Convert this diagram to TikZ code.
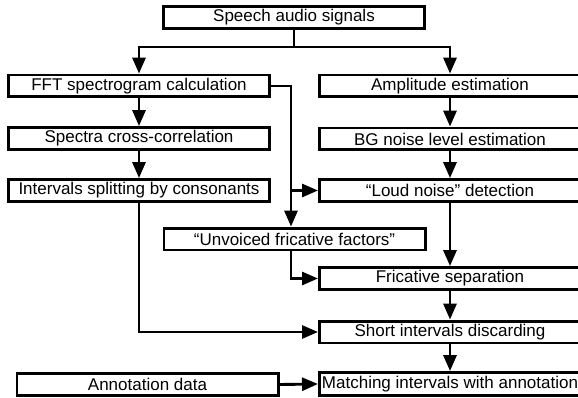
\documentclass[tikz,border=0pt]{standalone}
\usepackage{fontspec}
\setmainfont{Liberation Sans}
\usetikzlibrary{arrows.meta}
\tikzset{
  box/.style={draw=black, line width=2.9pt, fill=white, inner sep=1pt,
    minimum width=261.1pt, minimum height=21.9pt,
    font=\fontsize{17}{20}\selectfont, text=black},
  conn/.style={draw=black, line width=2.9pt},
  arr/.style={conn, -{Triangle[length=16pt,width=13pt]}},
}
\begin{document}
\begin{tikzpicture}[x=1pt,y=-1pt]
\fill[white] (0,0) rectangle (578,398);
\useasboundingbox (0,0) rectangle (578,398);

\node[box] (speech) at (294,17.5) {Speech audio signals};
\node[box] (fft) at (139,86) {FFT spectrogram calculation};
\node[box] (amp) at (450,86) {Amplitude estimation};
\node[box] (spectra) at (139,138.5) {Spectra cross-correlation};
\node[box] (bg) at (450,139) {BG noise level estimation};
\node[box] (intervals) at (139,190.5) {Intervals splitting by consonants};
\node[box] (loud) at (450,190.5) {“Loud noise” detection};
\node[box] (unvoiced) at (294.5,239) {“Unvoiced fricative factors”};
\node[box] (fric) at (450,278.5) {Fricative separation};
\node[box] (short) at (450,332) {Short intervals discarding};
\node[box] (annot) at (147.5,384.5) {Annotation data};
\node[box, minimum height=22.9pt] (match) at (450,384) {Matching intervals with annotation};

\coordinate (split) at (294,47);
\coordinate (vbus) at (291,86);

\draw[conn] (speech.south) -- (split);
\draw[arr] (split) -| (fft.north);
\draw[arr] (split) -| (amp.north);
\draw[arr] (fft.south) -- (spectra.north);
\draw[arr] (spectra.south) -- (intervals.north);
\draw[arr] (amp.south) -- (bg.north);
\draw[arr] (bg.south) -- (loud.north);
\draw[arr] (fft.east) -| (vbus |- unvoiced.north);
\draw[arr] (vbus |- loud.west) -- (loud.west);
\draw[arr] (vbus |- unvoiced.south) |- (fric.west);
\draw[arr] (loud.south) -- (fric.north);
\draw[arr] (intervals.south) |- (short.west);
\draw[arr] (fric.south) -- (short.north);
\draw[arr] (short.south) -- (match.north);
\draw[arr] (annot.east) -- (match.west);
\end{tikzpicture}
\end{document}
